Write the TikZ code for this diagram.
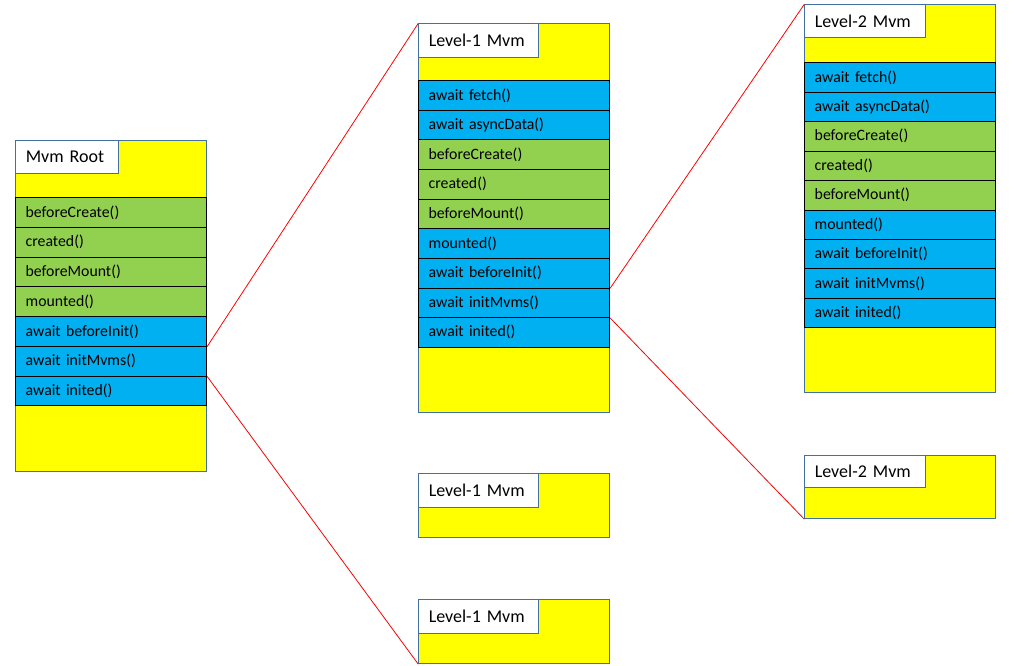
\documentclass[tikz,border=0pt]{standalone}
\usepackage{fontspec}
\setmainfont{Carlito}
\definecolor{framec}{HTML}{41719C}
\definecolor{colg}{HTML}{92D050}
\definecolor{colb}{HTML}{00B0F0}
\definecolor{coly}{HTML}{FFFF00}
\begin{document}
\begin{tikzpicture}[x=1pt,y=-1pt,
  frame/.style={draw=framec, fill=coly, line width=0.9pt, anchor=north west, inner sep=0pt, minimum width=191pt},
  lbl/.style={draw=framec, fill=white, line width=0.9pt, anchor=north west, inner xsep=10pt, inner ysep=0pt, align=left, font=\fontsize{18}{21}\selectfont},
  row/.style={draw=black, fill=col#1, line width=0.8pt, anchor=north west, inner xsep=10pt, inner ysep=0pt, text width=171pt, align=left, font=\fontsize{15.8}{18}\selectfont},
  link/.style={draw=red, line width=0.8pt}
]
\useasboundingbox (0,0) rectangle (1015,666);

% ---- Root
\node[frame, minimum height=331pt] (root) at (15.3,140.3) {};
\node[lbl, text width=83pt, minimum height=33pt] (rootl) at (15.3,140.3) {Mvm Root};
\foreach \c/\t [count=\i] in {g/beforeCreate(), g/created(), g/beforeMount(), g/mounted(), b/await beforeInit(), b/await initMvms(), b/await inited()}{
  \pgfmathsetmacro\yy{197.3+(\i-1)*29.71}
  \node[row=\c, minimum height=29.71pt] (r\i) at (15.3,\yy) {\t};
}

% ---- Level-1 main
\node[frame, minimum height=388.4pt] (la) at (418.3,23.3) {};
\node[lbl, text width=99.7pt, minimum height=33.4pt] (lal) at (418.3,23.3) {Level-1 Mvm};
\foreach \c/\t [count=\i] in {b/await fetch(), b/await asyncData(), g/beforeCreate(), g/created(), g/beforeMount(), b/mounted(), b/await beforeInit(), b/await initMvms(), b/await inited()}{
  \pgfmathsetmacro\yy{80.3+(\i-1)*29.6}
  \node[row=\c, minimum height=29.6pt] (a\i) at (418.3,\yy) {\t};
}

% ---- Level-1 small boxes
\node[frame, minimum height=64pt] (lb) at (418.3,473.3) {};
\node[lbl, text width=99.7pt, minimum height=33.4pt] (lbl) at (418.3,473.3) {Level-1 Mvm};
\node[frame, minimum height=64pt] (lc) at (418.3,599.3) {};
\node[lbl, text width=99.7pt, minimum height=33.4pt] (lcl) at (418.3,599.3) {Level-1 Mvm};

% ---- Level-2 main
\node[frame, minimum height=388pt] (ma) at (804.3,4.3) {};
\node[lbl, text width=100.4pt, minimum height=33pt] (mal) at (804.3,4.3) {Level-2 Mvm};
\foreach \c/\t [count=\i] in {b/await fetch(), b/await asyncData(), g/beforeCreate(), g/created(), g/beforeMount(), b/mounted(), b/await beforeInit(), b/await initMvms(), b/await inited()}{
  \pgfmathsetmacro\yy{62.3+(\i-1)*29.44}
  \node[row=\c, minimum height=29.44pt] (m\i) at (804.3,\yy) {\t};
}

% ---- Level-2 small box
\node[frame, minimum height=63pt] (mb) at (804.3,455.3) {};
\node[lbl, text width=100.4pt, minimum height=32pt] (mbl) at (804.3,455.3) {Level-2 Mvm};

% ---- connectors
\draw[link] (r5.south east) -- (la.north west);
\draw[link] (r6.south east) -- (lc.south west);
\draw[link] (a7.south east) -- (ma.north west);
\draw[link] (a8.south east) -- (mb.south west);
\end{tikzpicture}
\end{document}
